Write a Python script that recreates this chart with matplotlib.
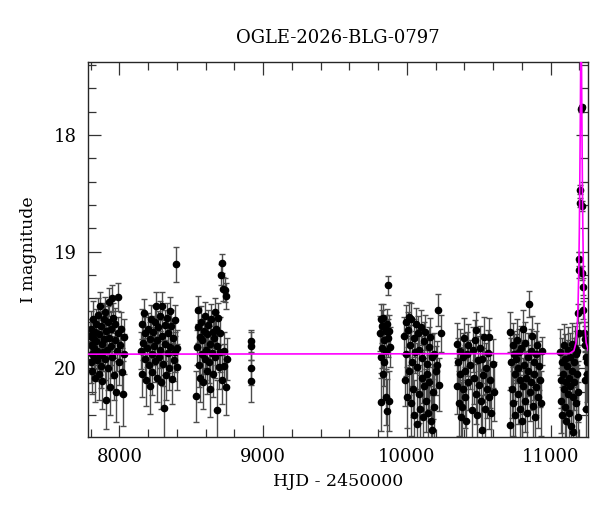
import numpy as np
import matplotlib
matplotlib.use("Agg")
import matplotlib.pyplot as plt
from matplotlib.ticker import MultipleLocator

# light curve, one list per observing season (HJD - 2450000, I mag, error)
t1 = [7796, 7800, 7803, 7806, 7809, 7812, 7815, 7818, 7822, 7825,
      7829, 7832, 7836, 7840, 7843, 7847, 7851, 7855, 7858, 7862,
      7866, 7870, 7874, 7878, 7882, 7886, 7890, 7894, 7898, 7902,
      7906, 7910, 7914, 7918, 7922, 7926, 7930, 7935, 7940, 7944,
      7948, 7952, 7957, 7962, 7967, 7972, 7978, 7984, 7988, 7994,
      8000, 8006, 8012, 8018, 8024, 8030, 8035]
m1 = [19.72, 19.95, 19.80, 19.66, 19.88, 20.02, 19.74, 19.58, 19.91, 19.83,
      19.69, 20.08, 19.77, 19.62, 19.93, 19.85, 19.54, 20.05, 19.71, 19.47,
      19.89, 19.98, 19.64, 19.79, 20.11, 19.86, 19.58, 19.75, 19.92, 19.52,
      20.27, 19.68, 19.84, 19.60, 20.00, 19.74, 19.43, 20.16, 19.81, 19.66,
      19.40, 19.90, 19.57, 20.06, 19.76, 19.62, 20.20, 19.85, 19.39, 19.70,
      19.95, 19.80, 19.66, 20.03, 20.22, 19.73, 19.88]
e1 = [0.14, 0.18, 0.12, 0.15, 0.17, 0.20, 0.13, 0.16, 0.19, 0.14,
      0.12, 0.21, 0.15, 0.13, 0.18, 0.16, 0.14, 0.22, 0.15, 0.12,
      0.17, 0.19, 0.13, 0.15, 0.24, 0.16, 0.14, 0.15, 0.18, 0.13,
      0.25, 0.14, 0.16, 0.13, 0.19, 0.15, 0.12, 0.24, 0.16, 0.14,
      0.11, 0.18, 0.13, 0.21, 0.15, 0.14, 0.26, 0.17, 0.12, 0.14,
      0.19, 0.16, 0.14, 0.20, 0.28, 0.15, 0.17]

t2 = [8152, 8156, 8160, 8165, 8170, 8175, 8180, 8186, 8192, 8198,
      8204, 8210, 8215, 8220, 8225, 8230, 8235, 8240, 8245, 8250,
      8255, 8260, 8265, 8270, 8275, 8280, 8285, 8290, 8295, 8300,
      8305, 8310, 8315, 8320, 8325, 8330, 8335, 8340, 8345, 8350,
      8355, 8360, 8366, 8372, 8378, 8384, 8390, 8395, 8398, 8402]
m2 = [19.85, 19.62, 20.05, 19.78, 19.53, 19.92, 19.70, 20.10, 19.83, 19.66,
      19.97, 20.15, 19.75, 19.58, 19.88, 20.03, 19.69, 19.81, 19.60, 19.94,
      19.47, 19.76, 20.08, 19.65, 19.90, 19.55, 19.84, 20.12, 19.72, 19.47,
      19.96, 20.34, 19.63, 19.79, 20.06, 19.57, 19.87, 19.70, 20.00, 19.51,
      19.82, 19.64, 20.09, 19.74, 19.93, 19.59, 19.86, 19.11, 19.83, 19.99]
e2 = [0.16, 0.13, 0.20, 0.15, 0.12, 0.18, 0.14, 0.22, 0.16, 0.13,
      0.19, 0.24, 0.15, 0.12, 0.17, 0.20, 0.14, 0.16, 0.13, 0.18,
      0.12, 0.15, 0.21, 0.14, 0.18, 0.13, 0.16, 0.23, 0.14, 0.12,
      0.19, 0.28, 0.13, 0.15, 0.21, 0.13, 0.17, 0.14, 0.19, 0.12,
      0.16, 0.14, 0.22, 0.15, 0.18, 0.13, 0.17, 0.15, 0.16, 0.20]

t3 = [8536, 8540, 8545, 8550, 8553, 8558, 8563, 8568, 8573, 8578,
      8583, 8588, 8593, 8598, 8603, 8608, 8613, 8618, 8623, 8628,
      8633, 8638, 8643, 8648, 8653, 8658, 8663, 8668, 8673, 8677,
      8682, 8687, 8692, 8697, 8702, 8707, 8712, 8716, 8720, 8725,
      8730, 8735, 8740, 8745, 8750,
      8915, 8916, 8917, 8918]
m3 = [20.24, 19.82, 19.65, 19.50, 19.97, 19.73, 20.08, 19.60, 19.88, 19.76,
      20.12, 19.68, 19.92, 19.55, 19.84, 20.02, 19.71, 19.63, 19.95, 19.79,
      20.18, 19.58, 19.87, 19.69, 20.05, 19.74, 19.52, 19.90, 19.66, 20.36,
      19.81, 19.57, 19.99, 19.70, 19.86, 19.20, 19.10, 20.10, 19.32, 19.98,
      19.85, 19.33, 20.16, 19.38, 19.92,
      19.77, 19.81, 20.00, 20.11]
e3 = [0.22, 0.15, 0.13, 0.12, 0.19, 0.14, 0.21, 0.13, 0.17, 0.15,
      0.23, 0.14, 0.18, 0.12, 0.16, 0.20, 0.14, 0.13, 0.18, 0.15,
      0.24, 0.13, 0.17, 0.14, 0.20, 0.15, 0.12, 0.18, 0.14, 0.26,
      0.16, 0.13, 0.19, 0.14, 0.17, 0.09, 0.08, 0.21, 0.10, 0.19,
      0.16, 0.10, 0.24, 0.11, 0.18,
      0.10, 0.12, 0.14, 0.18]

t4 = [9814, 9817, 9819, 9822, 9825, 9828, 9831, 9835, 9839, 9843,
      9852, 9855, 9858, 9861, 9864, 9867, 9870, 9874, 9879, 9885]
m4 = [19.70, 19.58, 20.29, 19.90, 19.64, 19.83, 20.05, 19.57, 19.76, 19.95,
      19.68, 20.25, 19.85, 19.62, 20.37, 19.74, 19.29, 20.28, 19.68, 19.82]
e4 = [0.15, 0.13, 0.25, 0.18, 0.14, 0.17, 0.22, 0.12, 0.16, 0.20,
      0.14, 0.24, 0.18, 0.13, 0.28, 0.16, 0.08, 0.26, 0.14, 0.17]

t5 = [9982, 9987, 9992, 9997, 10002, 10007, 10012, 10017, 10022, 10027,
      10032, 10037, 10042, 10047, 10052, 10057, 10062, 10067, 10072, 10077,
      10082, 10087, 10092, 10097, 10102, 10107, 10112, 10117, 10122, 10127,
      10132, 10137, 10142, 10147, 10152, 10157, 10162, 10167, 10172, 10177,
      10182, 10187, 10192, 10200, 10210, 10217, 10226, 10234]
m5 = [19.72, 20.10, 19.60, 19.88, 20.25, 19.67, 19.56, 20.02, 19.80, 20.30,
      19.58, 19.95, 20.18, 19.74, 20.40, 19.86, 19.62, 20.48, 19.99, 19.70,
      20.22, 19.84, 20.35, 19.65, 20.08, 19.91, 20.42, 19.77, 20.15, 19.69,
      20.28, 19.96, 20.05, 20.38, 19.82, 20.12, 19.73, 20.45, 19.90, 20.53,
      20.20, 19.88, 20.33, 20.02, 19.97, 19.50, 20.14, 19.70]
e5 = [0.16, 0.22, 0.14, 0.19, 0.26, 0.15, 0.13, 0.21, 0.17, 0.28,
      0.14, 0.20, 0.24, 0.16, 0.30, 0.18, 0.14, 0.30, 0.21, 0.15,
      0.25, 0.18, 0.29, 0.15, 0.22, 0.19, 0.30, 0.17, 0.24, 0.15,
      0.27, 0.20, 0.22, 0.30, 0.17, 0.23, 0.16, 0.30, 0.19, 0.30,
      0.24, 0.18, 0.28, 0.21, 0.20, 0.14, 0.23, 0.16]

t6 = [10348, 10352, 10357, 10362, 10367, 10372, 10377, 10382, 10387, 10392,
      10397, 10402, 10407, 10412, 10417, 10422, 10427, 10440, 10450, 10458,
      10465, 10472, 10478, 10484, 10490, 10496, 10502, 10508, 10514, 10520,
      10526, 10532, 10538, 10544, 10550, 10556, 10562, 10568, 10574, 10580,
      10588, 10596, 10604]
m6 = [19.79, 20.15, 19.95, 20.30, 19.85, 20.05, 20.42, 20.33, 19.90, 20.18,
      19.74, 20.25, 20.02, 20.45, 19.88, 20.12, 19.80, 19.97, 20.36, 19.84,
      20.08, 19.76, 20.22, 19.67, 20.40, 19.93, 20.14, 19.83, 20.28, 20.53,
      19.92, 20.06, 19.73, 20.35, 20.00, 20.18, 19.87, 19.73, 20.25, 20.10,
      20.38, 19.96, 20.20]
e6 = [0.18, 0.24, 0.21, 0.28, 0.19, 0.23, 0.30, 0.28, 0.20, 0.25,
      0.17, 0.26, 0.22, 0.30, 0.19, 0.24, 0.18, 0.21, 0.29, 0.19,
      0.23, 0.17, 0.26, 0.15, 0.30, 0.21, 0.24, 0.19, 0.27, 0.30,
      0.21, 0.23, 0.17, 0.28, 0.22, 0.25, 0.20, 0.16, 0.27, 0.24,
      0.29, 0.21, 0.25]

t7 = [10716, 10720, 10725, 10730, 10735, 10740, 10745, 10750, 10755, 10760,
      10765, 10770, 10775, 10780, 10785, 10790, 10795, 10800, 10805, 10810,
      10815, 10820, 10825, 10830, 10835, 10840, 10845, 10851, 10856, 10861,
      10866, 10871, 10876, 10881, 10886, 10891, 10896, 10901, 10906, 10912,
      10918, 10925, 10932, 10937]
m7 = [20.49, 19.69, 19.95, 20.18, 19.80, 20.30, 19.88, 20.05, 20.40, 19.92,
      19.76, 20.22, 20.00, 19.86, 20.35, 20.10, 19.83, 20.45, 19.66, 20.15,
      19.97, 20.28, 19.78, 20.08, 20.38, 19.90, 20.02, 19.45, 20.20, 19.85,
      20.12, 19.72, 20.32, 19.95, 20.05, 20.42, 19.88, 20.16, 19.80, 20.25,
      19.98, 20.10, 20.30, 19.85]
e7 = [0.30, 0.17, 0.21, 0.25, 0.19, 0.28, 0.20, 0.23, 0.30, 0.21,
      0.18, 0.26, 0.22, 0.20, 0.29, 0.24, 0.19, 0.30, 0.16, 0.24,
      0.21, 0.27, 0.18, 0.23, 0.30, 0.20, 0.22, 0.11, 0.25, 0.19,
      0.24, 0.17, 0.28, 0.21, 0.22, 0.30, 0.20, 0.24, 0.19, 0.26,
      0.21, 0.23, 0.28, 0.12]

t8 = [11066, 11070, 11074, 11078, 11082, 11086, 11090, 11094, 11098, 11102,
      11106, 11110, 11114, 11118, 11122, 11126, 11130, 11134, 11138, 11142,
      11146, 11150, 11154, 11158, 11162, 11166, 11170, 11174, 11178, 11182,
      11188, 11193, 11238, 11244, 11250]
m8 = [19.86, 20.10, 20.28, 19.95, 20.40, 20.05, 19.80, 20.18, 20.33, 19.92,
      20.12, 20.45, 19.98, 20.22, 19.84, 20.08, 20.38, 19.90, 20.15, 20.50,
      20.02, 19.79, 20.25, 20.55, 19.95, 20.12, 19.83, 20.30, 19.88, 20.05,
      20.20, 20.42, 20.10, 20.35, 20.05]
e8 = [0.20, 0.24, 0.28, 0.21, 0.30, 0.23, 0.18, 0.25, 0.29, 0.21,
      0.24, 0.30, 0.22, 0.27, 0.19, 0.23, 0.30, 0.20, 0.25, 0.30,
      0.22, 0.18, 0.27, 0.30, 0.21, 0.24, 0.19, 0.29, 0.20, 0.23,
      0.26, 0.30, 0.25, 0.30, 0.24]

# points on the event itself
t_peak = [11184, 11190, 11194, 11197, 11200, 11203, 11206, 11208, 11215,
          11218, 11221, 11225, 11228, 11232, 11236, 11241, 11247, 11253]
m_peak = [19.85, 19.53, 19.70, 19.16, 19.06, 18.58, 18.47, 17.78, 17.76,
          18.61, 19.18, 19.30, 19.50, 19.70, 19.80, 19.75, 19.90, 19.95]
e_peak = [0.12, 0.08, 0.10, 0.07, 0.06, 0.04, 0.04, 0.02, 0.02,
          0.04, 0.06, 0.07, 0.08, 0.10, 0.12, 0.11, 0.15, 0.18]

# model curve
t_model = [7700, 11130, 11162, 11177, 11185, 11191, 11196, 11200, 11203,
           11206, 11208, 11210, 11212, 11214, 11216, 11218, 11221, 11224,
           11228, 11233, 11239, 11247, 11262, 11294, 11400]
m_model = [19.88, 19.875, 19.85, 19.78, 19.65, 19.45, 19.15, 18.8, 18.4,
           17.95, 17.6, 17.2, 16.9, 17.2, 17.6, 17.95, 18.4, 18.8,
           19.15, 19.45, 19.65, 19.78, 19.85, 19.875, 19.88]

t_all = t1 + t2 + t3 + t4 + t5 + t6 + t7 + t8 + t_peak
m_all = m1 + m2 + m3 + m4 + m5 + m6 + m7 + m8 + m_peak
e_all = e1 + e2 + e3 + e4 + e5 + e6 + e7 + e8 + e_peak

plt.rcParams["font.family"] = ["DejaVu Serif"]

fig = plt.figure(figsize=(6.0, 5.12), dpi=100)
ax = fig.add_axes([0.1467, 0.1465, 0.8333, 0.7325])

ax.errorbar(t_all, m_all, yerr=e_all, fmt="o", color="black", ms=4.5,
            ecolor="0.3", elinewidth=1, capsize=2.5, capthick=1, zorder=2)
ax.plot(t_model, m_model, color="#ff00ff", lw=1.2, zorder=3)

ax.set_xlim(7782, 11260)
ax.set_ylim(20.59, 17.374)

ax.xaxis.set_major_locator(MultipleLocator(1000))
ax.xaxis.set_minor_locator(MultipleLocator(200))
ax.yaxis.set_major_locator(MultipleLocator(1))
ax.yaxis.set_minor_locator(MultipleLocator(0.2))
ax.tick_params(which="both", direction="in", top=True, right=True,
               labelsize=13, color="0.2")
ax.tick_params(which="major", length=9, width=0.9, pad=8)
ax.tick_params(which="minor", length=6, width=0.9)
for s in ax.spines.values():
    s.set_linewidth(1.0)
    s.set_color("0.15")

ax.set_xlabel("HJD - 2450000", fontsize=12.5, labelpad=5)
ax.set_ylabel("I magnitude", fontsize=12.5, labelpad=12)
ax.set_title("OGLE-2026-BLG-0797", fontsize=13, pad=14)

fig.savefig("out.png", dpi=100)
